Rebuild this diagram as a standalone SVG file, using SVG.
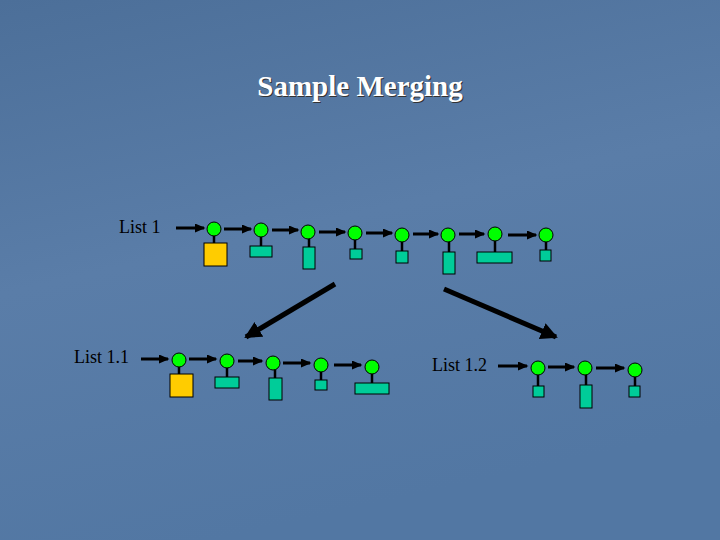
<svg xmlns="http://www.w3.org/2000/svg" width="720" height="540" viewBox="0 0 720 540">
<defs>
<linearGradient id="bg" x1="0" y1="0" x2="0.3" y2="1"><stop offset="0" stop-color="#4c6f99"/><stop offset="0.5" stop-color="#5a7da8"/><stop offset="1" stop-color="#5277a3"/></linearGradient>
<marker id="ah" markerWidth="3.5" markerHeight="3" refX="3" refY="1.5" orient="auto" markerUnits="strokeWidth"><path d="M0,0 L3.5,1.5 L0,3 z" fill="#000"/></marker>
<marker id="bh" markerWidth="3.4" markerHeight="3.4" refX="3" refY="1.7" orient="auto" markerUnits="strokeWidth"><path d="M0,0 L3.4,1.7 L0,3.4 z" fill="#000"/></marker>
</defs>
<style>
.n{fill:#00ff00;stroke:#000;stroke-width:1}
.s{stroke:#000;stroke-width:2.5}
.b{fill:#00cc99;stroke:#000;stroke-width:1}
.y{fill:#ffcc00;stroke:#000;stroke-width:1}
.a{stroke:#000;stroke-width:3;fill:none;marker-end:url(#ah)}
.t{font-family:"Liberation Serif",serif;font-size:18px;fill:#000}
</style>
<rect width="720" height="540" fill="url(#bg)"/>
<text x="361" y="97" text-anchor="middle" font-family="Liberation Serif,serif" font-weight="bold" font-size="29" fill="#333">Sample Merging</text>
<text x="360" y="96" text-anchor="middle" font-family="Liberation Serif,serif" font-weight="bold" font-size="29" fill="#fff">Sample Merging</text>
<text class="t" x="119" y="233">List 1</text>
<text class="t" x="74" y="363">List 1.1</text>
<text class="t" x="432" y="371">List 1.2</text>
<g id="connectors">
<line class="a" x1="176" y1="228" x2="204" y2="228"/>
<line class="a" x1="224" y1="229" x2="251" y2="229"/>
<line class="a" x1="272" y1="230" x2="298" y2="230"/>
<line class="a" x1="319" y1="232" x2="345" y2="232"/>
<line class="a" x1="366" y1="233" x2="392" y2="233"/>
<line class="a" x1="413" y1="234" x2="438" y2="234"/>
<line class="a" x1="459" y1="234" x2="484" y2="234"/>
<line class="a" x1="508" y1="235" x2="536" y2="235"/>
<line class="a" x1="141" y1="359" x2="168" y2="359"/>
<line class="a" x1="189" y1="359" x2="216" y2="359"/>
<line class="a" x1="238" y1="361" x2="262" y2="361"/>
<line class="a" x1="283" y1="363" x2="310" y2="363"/>
<line class="a" x1="334" y1="365" x2="361" y2="365"/>
<line class="a" x1="498" y1="366" x2="527" y2="366"/>
<line class="a" x1="548" y1="367" x2="574" y2="367"/>
<line class="a" x1="596" y1="368" x2="624" y2="368"/>
<line stroke="#000" stroke-width="5" marker-end="url(#bh)" x1="335" y1="284" x2="246" y2="337"/>
<line stroke="#000" stroke-width="5" marker-end="url(#bh)" x1="444" y1="289" x2="556" y2="337"/>
</g>
<g id="list1">
<g id="n1"><line class="s" x1="214" y1="229" x2="214" y2="243"/><rect class="y" x="204" y="243" width="23" height="23"/><circle class="n" cx="214" cy="229" r="7"/></g>
<g id="n2"><line class="s" x1="261" y1="230" x2="261" y2="246"/><rect class="b" x="250" y="246" width="22" height="11"/><circle class="n" cx="261" cy="230" r="7"/></g>
<g id="n3"><line class="s" x1="309" y1="232" x2="309" y2="247"/><rect class="b" x="303" y="247" width="12" height="22"/><circle class="n" cx="308" cy="232" r="7"/></g>
<g id="n4"><line class="s" x1="355" y1="233" x2="355" y2="249"/><rect class="b" x="350" y="249" width="12" height="10"/><circle class="n" cx="355" cy="233" r="7"/></g>
<g id="n5"><line class="s" x1="402" y1="235" x2="402" y2="251"/><rect class="b" x="396" y="251" width="12" height="12"/><circle class="n" cx="402" cy="235" r="7"/></g>
<g id="n6"><line class="s" x1="449" y1="235" x2="449" y2="252"/><rect class="b" x="443" y="252" width="12" height="22"/><circle class="n" cx="448" cy="235" r="7"/></g>
<g id="n7"><line class="s" x1="495" y1="234" x2="495" y2="252"/><rect class="b" x="477" y="252" width="35" height="11"/><circle class="n" cx="495" cy="234" r="7"/></g>
<g id="n8"><line class="s" x1="546" y1="235" x2="546" y2="250"/><rect class="b" x="540" y="250" width="11" height="11"/><circle class="n" cx="546" cy="235" r="7"/></g>
</g>
<g id="list11">
<g id="m1"><line class="s" x1="179" y1="360" x2="179" y2="374"/><rect class="y" x="170" y="374" width="23" height="23"/><circle class="n" cx="179" cy="360" r="7"/></g>
<g id="m2"><line class="s" x1="227" y1="361" x2="227" y2="377"/><rect class="b" x="215" y="377" width="24" height="11"/><circle class="n" cx="227" cy="361" r="7"/></g>
<g id="m3"><line class="s" x1="275" y1="363" x2="275" y2="378"/><rect class="b" x="269" y="378" width="13" height="22"/><circle class="n" cx="273" cy="363" r="7"/></g>
<g id="m4"><line class="s" x1="321" y1="365" x2="321" y2="380"/><rect class="b" x="315" y="380" width="12" height="10"/><circle class="n" cx="321" cy="365" r="7"/></g>
<g id="m5"><line class="s" x1="372" y1="367" x2="372" y2="383"/><rect class="b" x="355" y="383" width="34" height="11"/><circle class="n" cx="372" cy="367" r="7"/></g>
</g>
<g id="list12">
<g id="k1"><line class="s" x1="538" y1="368" x2="538" y2="386"/><rect class="b" x="533" y="386" width="11" height="11"/><circle class="n" cx="538" cy="368" r="7"/></g>
<g id="k2"><line class="s" x1="586" y1="368" x2="586" y2="385"/><rect class="b" x="580" y="385" width="12" height="23"/><circle class="n" cx="585" cy="368" r="7"/></g>
<g id="k3"><line class="s" x1="635" y1="370" x2="635" y2="386"/><rect class="b" x="629" y="386" width="11" height="11"/><circle class="n" cx="635" cy="370" r="7"/></g>
</g>
</svg>
